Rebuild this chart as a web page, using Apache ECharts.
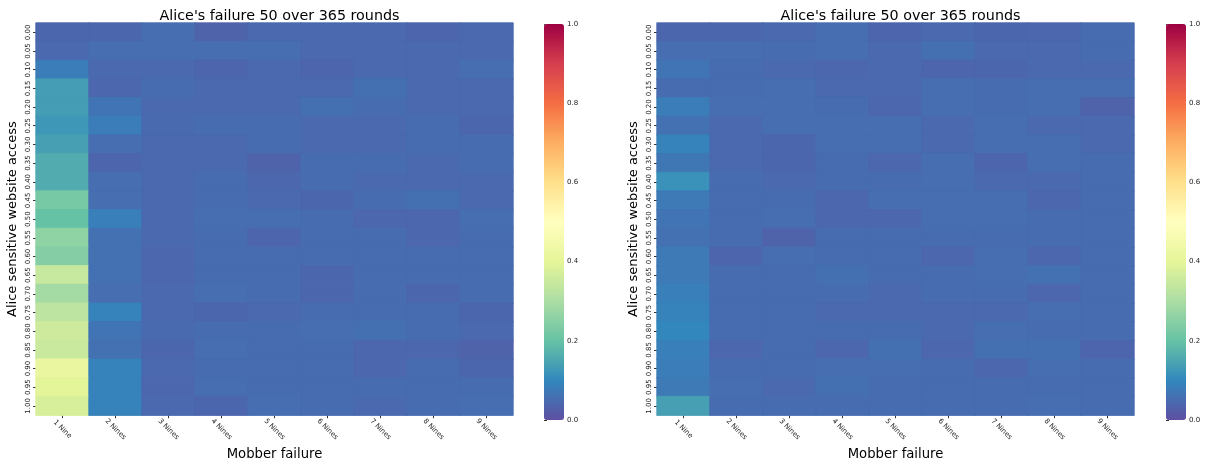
<!DOCTYPE html>
<html><head><meta charset="utf-8">
<script src="https://cdn.jsdelivr.net/npm/echarts@6/dist/echarts.min.js"></script>
<style>html,body{margin:0;padding:0;background:#fff}#c{width:1210px;height:466px}</style>
</head><body><div id="c"></div>
<script>
const titleText = "Alice's failure 50 over 365 rounds";
const xLabels = ['1 Nine','2 Nines','3 Nines','4 Nines','5 Nines','6 Nines','7 Nines','8 Nines','9 Nines'];
const yLabels = ['0.00','0.05','0.10','0.15','0.20','0.25','0.30','0.35','0.40','0.45','0.50','0.55','0.60','0.65','0.70','0.75','0.80','0.85','0.90','0.95','1.00'];
const colorbarTicks = [0, 0.2, 0.4, 0.6, 0.8, 1.0];
const spectralR = ['#5e4fa2','#3288bd','#66c2a5','#abdda4','#e6f598','#ffffbf','#fee08b','#fdae61','#f46d43','#d53e4f','#9e0142'];

const leftRows = [
 [0.04, 0.04, 0.055, 0.035, 0.045, 0.045, 0.045, 0.038, 0.045],
 [0.045, 0.055, 0.055, 0.055, 0.055, 0.045, 0.045, 0.045, 0.045],
 [0.08, 0.045, 0.045, 0.038, 0.045, 0.038, 0.045, 0.045, 0.055],
 [0.135, 0.042, 0.05, 0.045, 0.045, 0.045, 0.058, 0.045, 0.045],
 [0.135, 0.065, 0.045, 0.045, 0.045, 0.058, 0.05, 0.045, 0.045],
 [0.125, 0.08, 0.048, 0.052, 0.052, 0.045, 0.045, 0.052, 0.04],
 [0.14, 0.055, 0.045, 0.045, 0.052, 0.045, 0.045, 0.052, 0.05],
 [0.16, 0.038, 0.045, 0.045, 0.035, 0.052, 0.052, 0.045, 0.052],
 [0.16, 0.055, 0.045, 0.05, 0.042, 0.05, 0.045, 0.045, 0.045],
 [0.225, 0.055, 0.045, 0.05, 0.045, 0.04, 0.05, 0.058, 0.045],
 [0.2, 0.085, 0.045, 0.055, 0.055, 0.05, 0.042, 0.042, 0.055],
 [0.26, 0.06, 0.045, 0.05, 0.038, 0.05, 0.05, 0.042, 0.05],
 [0.245, 0.06, 0.042, 0.05, 0.05, 0.05, 0.05, 0.05, 0.05],
 [0.345, 0.06, 0.042, 0.05, 0.05, 0.04, 0.05, 0.05, 0.05],
 [0.29, 0.055, 0.045, 0.055, 0.05, 0.04, 0.05, 0.04, 0.05],
 [0.33, 0.09, 0.045, 0.04, 0.045, 0.05, 0.05, 0.05, 0.04],
 [0.36, 0.065, 0.048, 0.05, 0.05, 0.055, 0.058, 0.05, 0.045],
 [0.35, 0.06, 0.04, 0.055, 0.05, 0.05, 0.042, 0.042, 0.035],
 [0.42, 0.09, 0.045, 0.05, 0.05, 0.05, 0.042, 0.05, 0.04],
 [0.395, 0.09, 0.042, 0.055, 0.05, 0.05, 0.05, 0.05, 0.05],
 [0.375, 0.09, 0.045, 0.04, 0.055, 0.05, 0.045, 0.05, 0.055]
];
const rightRows = [
 [0.04, 0.04, 0.045, 0.055, 0.038, 0.045, 0.04, 0.042, 0.05],
 [0.055, 0.055, 0.05, 0.055, 0.045, 0.058, 0.045, 0.045, 0.05],
 [0.065, 0.05, 0.045, 0.042, 0.045, 0.038, 0.04, 0.045, 0.045],
 [0.05, 0.05, 0.055, 0.045, 0.045, 0.055, 0.05, 0.055, 0.055],
 [0.08, 0.055, 0.055, 0.05, 0.042, 0.055, 0.05, 0.055, 0.035],
 [0.06, 0.045, 0.055, 0.055, 0.055, 0.045, 0.055, 0.045, 0.045],
 [0.09, 0.045, 0.04, 0.055, 0.055, 0.045, 0.055, 0.055, 0.045],
 [0.07, 0.045, 0.04, 0.05, 0.042, 0.055, 0.038, 0.055, 0.05],
 [0.115, 0.05, 0.045, 0.05, 0.05, 0.055, 0.045, 0.045, 0.05],
 [0.075, 0.05, 0.05, 0.042, 0.055, 0.055, 0.055, 0.042, 0.05],
 [0.065, 0.05, 0.055, 0.042, 0.042, 0.055, 0.055, 0.05, 0.05],
 [0.06, 0.05, 0.035, 0.05, 0.05, 0.05, 0.05, 0.05, 0.05],
 [0.075, 0.038, 0.055, 0.05, 0.05, 0.042, 0.055, 0.042, 0.05],
 [0.075, 0.05, 0.05, 0.058, 0.05, 0.05, 0.055, 0.06, 0.05],
 [0.085, 0.05, 0.05, 0.05, 0.045, 0.05, 0.05, 0.042, 0.05],
 [0.09, 0.05, 0.05, 0.045, 0.045, 0.045, 0.045, 0.055, 0.05],
 [0.1, 0.05, 0.05, 0.05, 0.05, 0.045, 0.055, 0.05, 0.05],
 [0.085, 0.042, 0.05, 0.042, 0.058, 0.042, 0.058, 0.058, 0.038],
 [0.08, 0.05, 0.05, 0.055, 0.055, 0.05, 0.042, 0.055, 0.05],
 [0.075, 0.055, 0.045, 0.058, 0.05, 0.05, 0.05, 0.05, 0.05],
 [0.14, 0.05, 0.05, 0.05, 0.05, 0.05, 0.05, 0.055, 0.05]
];

// colour lookup (same ramp as the visualMap) used only for seam-hiding borders
function hexToRgb(h){ return [1,3,5].map(i => parseInt(h.slice(i, i+2), 16)); }
const rampRgb = spectralR.map(hexToRgb);
function rampColor(v){
  const t = Math.max(0, Math.min(1, v)) * (rampRgb.length - 1);
  const i = Math.min(rampRgb.length - 2, Math.floor(t));
  const f = t - i;
  const c = rampRgb[i].map((a, k) => Math.round(a + (rampRgb[i+1][k] - a) * f));
  return 'rgb(' + c.join(',') + ')';
}

function toData(rows){
  const d = [];
  rows.forEach((row, r) => row.forEach((v, c) => d.push({
    value: [c, r, v],
    itemStyle: {borderColor: rampColor(v), borderWidth: 0.8}
  })));
  return d;
}

const FONT = 'DejaVu Sans';
const panels = [
  {left: 36, width: 477, cbLeft: 544},
  {left: 657, width: 477, cbLeft: 1166}
];
const TOP = 23, HEIGHT = 399;

const option = {
  animation: false,
  textStyle: {fontFamily: FONT},
  title: panels.map(p => ({
    text: titleText, left: p.left + p.width/2, top: 4, textAlign: 'center',
    textStyle: {fontFamily: FONT, fontSize: 14.3, fontWeight: 'normal', color: '#000'}
  })),
  grid: [],
  xAxis: [],
  yAxis: [],
  visualMap: [],
  series: []
};

panels.forEach((p, i) => {
  option.grid.push({left: p.left, width: p.width, top: TOP, height: HEIGHT});
  option.grid.push({left: p.cbLeft, width: 20, top: 24, height: 396});
  const gi = i * 2;
  option.xAxis.push({
    type: 'category', data: xLabels, gridIndex: gi,
    name: 'Mobber failure', nameLocation: 'middle', nameGap: 29,
    nameTextStyle: {fontFamily: FONT, fontSize: 13.2, color: '#000'},
    axisLine: {show: false},
    axisTick: {show: true, alignWithLabel: true, interval: 0, length: 3, lineStyle: {color: '#333'}},
    axisLabel: {rotate: -45, interval: 0, fontSize: 7, color: '#222', margin: 14,
      align: 'center', verticalAlign: 'middle', fontFamily: FONT},
    splitLine: {show: false}
  });
  option.yAxis.push({
    type: 'category', data: yLabels, gridIndex: gi, inverse: true,
    name: 'Alice sensitive website access', nameLocation: 'middle', nameGap: 17,
    nameTextStyle: {fontFamily: FONT, fontSize: 13, color: '#000'},
    axisLine: {show: false},
    axisTick: {show: true, alignWithLabel: true, interval: 0, length: 3, lineStyle: {color: '#333'}},
    axisLabel: {rotate: 90, interval: 0, fontSize: 7, color: '#222', margin: 4, fontFamily: FONT},
    splitLine: {show: false}
  });
  option.xAxis.push({type: 'value', gridIndex: gi + 1, show: false, min: 0, max: 1});
  option.yAxis.push({
    type: 'value', gridIndex: gi + 1, position: 'right', min: 0, max: 1, interval: 0.2,
    axisLine: {show: false}, splitLine: {show: false},
    axisTick: {show: true, length: 3, lineStyle: {color: '#333'}},
    axisLabel: {fontSize: 7, color: '#222', margin: 3, fontFamily: FONT,
      formatter: v => colorbarTicks.includes(Math.round(v*10)/10) ? v.toFixed(1) : ''}
  });
  option.visualMap.push({
    type: 'continuous', min: 0, max: 1, seriesIndex: i, calculable: false,
    orient: 'vertical', left: p.cbLeft, top: 24, itemWidth: 20, itemHeight: 396,
    padding: 0, text: null, showLabel: false, realtime: false, hoverLink: false,
    inRange: {color: spectralR}
  });
  option.series.push({
    type: 'heatmap', xAxisIndex: gi, yAxisIndex: gi,
    data: toData(i === 0 ? leftRows : rightRows),
    emphasis: {disabled: true}
  });
});

const chart = echarts.init(document.getElementById('c'), null, {renderer: 'canvas'});
chart.setOption(option);
</script></body></html>
